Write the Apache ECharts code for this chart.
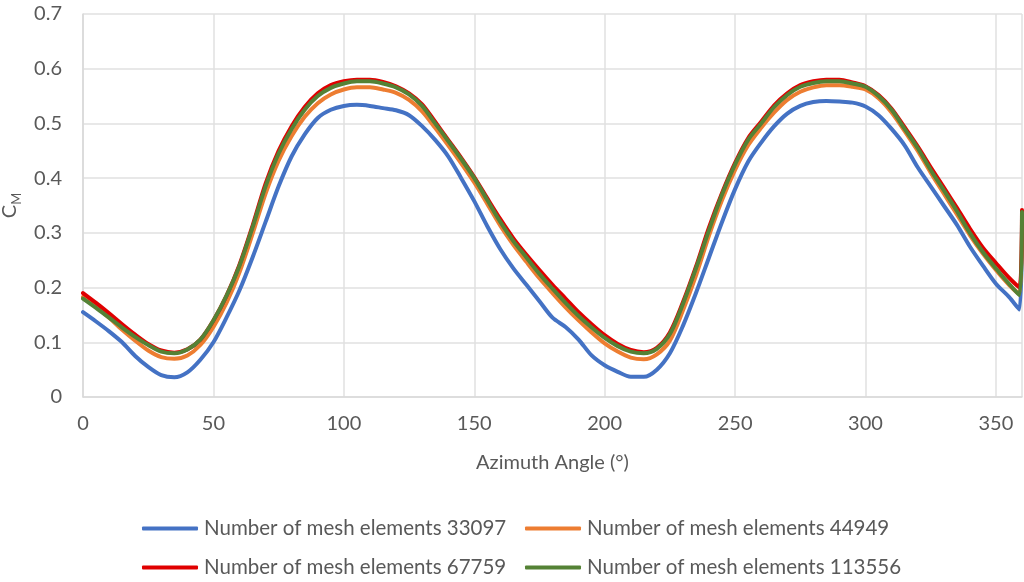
<!DOCTYPE html>
<html>
<head>
<meta charset="utf-8">
<script src="https://cdn.jsdelivr.net/npm/echarts@6/dist/echarts.min.js"></script>
<style>
html,body{margin:0;padding:0;background:#fff;}
#chart{width:1024px;height:582px;}
</style>
</head>
<body>
<div id="chart"></div>
<script>
var angles = [0,5,10,15,20,25,30,35,40,45,50,55,60,65,70,75,80,85,90,95,100,105,110,115,120,125,130,135,140,145,150,155,160,165,170,175,180,185,190,195,200,205,210,215,220,225,230,235,240,245,250,255,260,265,270,275,280,285,290,295,300,305,310,315,320,325,330,335,340,345,350,355,359,360];

var mesh33097 = [0.155,0.138,0.12,0.1,0.075,0.055,0.04,0.036,0.045,0.068,0.1,0.145,0.195,0.255,0.32,0.385,0.44,0.48,0.51,0.525,0.532,0.534,0.532,0.528,0.524,0.515,0.495,0.47,0.44,0.4,0.358,0.312,0.27,0.235,0.205,0.175,0.145,0.128,0.105,0.076,0.058,0.046,0.037,0.037,0.05,0.08,0.13,0.19,0.255,0.32,0.38,0.43,0.465,0.495,0.518,0.532,0.539,0.541,0.54,0.538,0.531,0.515,0.49,0.46,0.42,0.385,0.35,0.315,0.275,0.24,0.207,0.183,0.16,0.33];

var mesh44949 = [0.183,0.165,0.145,0.123,0.103,0.085,0.073,0.07,0.076,0.095,0.128,0.172,0.228,0.298,0.372,0.432,0.477,0.512,0.537,0.553,0.562,0.566,0.566,0.562,0.556,0.543,0.522,0.492,0.46,0.427,0.392,0.353,0.313,0.278,0.247,0.217,0.19,0.164,0.14,0.118,0.098,0.083,0.072,0.069,0.078,0.103,0.158,0.222,0.295,0.36,0.415,0.46,0.492,0.52,0.543,0.558,0.566,0.57,0.57,0.567,0.562,0.546,0.52,0.486,0.45,0.41,0.372,0.334,0.296,0.262,0.232,0.205,0.188,0.335];

var mesh67759 = [0.19,0.172,0.153,0.133,0.114,0.097,0.085,0.081,0.087,0.105,0.14,0.185,0.242,0.313,0.39,0.45,0.495,0.53,0.555,0.57,0.577,0.58,0.58,0.576,0.568,0.555,0.535,0.503,0.47,0.437,0.402,0.363,0.325,0.29,0.26,0.232,0.205,0.18,0.155,0.133,0.113,0.097,0.086,0.082,0.09,0.118,0.173,0.238,0.31,0.373,0.428,0.473,0.503,0.533,0.555,0.57,0.577,0.58,0.58,0.575,0.568,0.552,0.527,0.493,0.458,0.42,0.383,0.346,0.308,0.273,0.245,0.218,0.2,0.342];

var mesh113556 = [0.18,0.163,0.145,0.127,0.11,0.095,0.083,0.08,0.087,0.105,0.14,0.185,0.24,0.31,0.385,0.445,0.49,0.525,0.55,0.565,0.573,0.577,0.577,0.573,0.566,0.553,0.532,0.5,0.468,0.435,0.4,0.36,0.32,0.285,0.255,0.225,0.198,0.172,0.148,0.127,0.108,0.093,0.083,0.08,0.088,0.115,0.17,0.235,0.305,0.37,0.425,0.47,0.5,0.53,0.552,0.567,0.574,0.577,0.577,0.573,0.567,0.55,0.525,0.49,0.455,0.415,0.378,0.34,0.3,0.265,0.235,0.207,0.186,0.338];

var seriesNames = ['Number of mesh elements 33097','Number of mesh elements 44949','Number of mesh elements 67759','Number of mesh elements 113556'];
var seriesColors = ['#4472C4','#ED7D31','#E00000','#548235'];
var seriesValues = [mesh33097, mesh44949, mesh67759, mesh113556];

var FONT = 'Lato, "Open Sans", sans-serif';
var TXT = '#595959';

function pairs(vals){ return angles.map(function(a,i){ return [a, vals[i]]; }); }

var series = seriesNames.map(function(n,i){
  return {
    name: n, type: 'line', data: pairs(seriesValues[i]),
    smooth: 0.3, showSymbol: false, symbol: 'none',
    lineStyle: {color: seriesColors[i], width: 4, cap: 'round', join: 'round'},
    itemStyle: {color: seriesColors[i]},
    z: 2 + i
  };
});

function legendAt(idx, left, top){
  return {
    data: [seriesNames[idx]], left: left, top: top, orient: 'horizontal', padding: 0,
    icon: 'roundRect', itemWidth: 56, itemHeight: 4, itemGap: 5,
    textStyle: {fontFamily: FONT, fontSize: 20.5, color: TXT, padding: [0,0,0,1]},
    selectedMode: false
  };
}

var chart = echarts.init(document.getElementById('chart'), null, {renderer: 'canvas'});
chart.setOption({
  animation: false,
  backgroundColor: '#fff',
  grid: {left: 83, right: 2, top: 14, bottom: 185, containLabel: false, outerBoundsMode: 'none'},
  legend: [legendAt(0, 142, 518), legendAt(1, 525, 518), legendAt(2, 142, 557), legendAt(3, 525, 557)],
  xAxis: {
    type: 'value', min: 0, max: 360, interval: 50,
    name: 'Azimuth Angle (°)', nameLocation: 'middle', nameGap: 56,
    nameTextStyle: {fontFamily: FONT, fontSize: 20, color: TXT},
    axisLine: {show: true, lineStyle: {color: '#d9d9d9', width: 1.5}},
    axisTick: {show: false},
    axisLabel: {fontFamily: FONT, fontSize: 20, color: TXT, margin: 17, showMaxLabel: false},
    splitLine: {show: true, lineStyle: {color: '#e0e0e0', width: 1.5}}
  },
  yAxis: {
    type: 'value', min: 0, max: 0.7, interval: 0.1,
    name: '{c|C}{m|M}', nameLocation: 'middle', nameGap: 58, nameRotate: 90,
    nameTextStyle: {
      fontFamily: FONT, color: TXT,
      rich: {
        c: {fontFamily: FONT, fontSize: 20, color: TXT, lineHeight: 24, verticalAlign: 'top'},
        m: {fontFamily: FONT, fontSize: 13, color: TXT, lineHeight: 12, verticalAlign: 'bottom'}
      }
    },
    axisLine: {show: true, lineStyle: {color: '#d9d9d9', width: 1.5}},
    axisTick: {show: false},
    axisLabel: {fontFamily: FONT, fontSize: 20, color: TXT, margin: 21,
      formatter: function(v){ return v === 0 ? '0' : v.toFixed(1); }},
    splitLine: {show: true, lineStyle: {color: '#e0e0e0', width: 1.5}}
  },
  series: series
});
</script>
</body>
</html>
